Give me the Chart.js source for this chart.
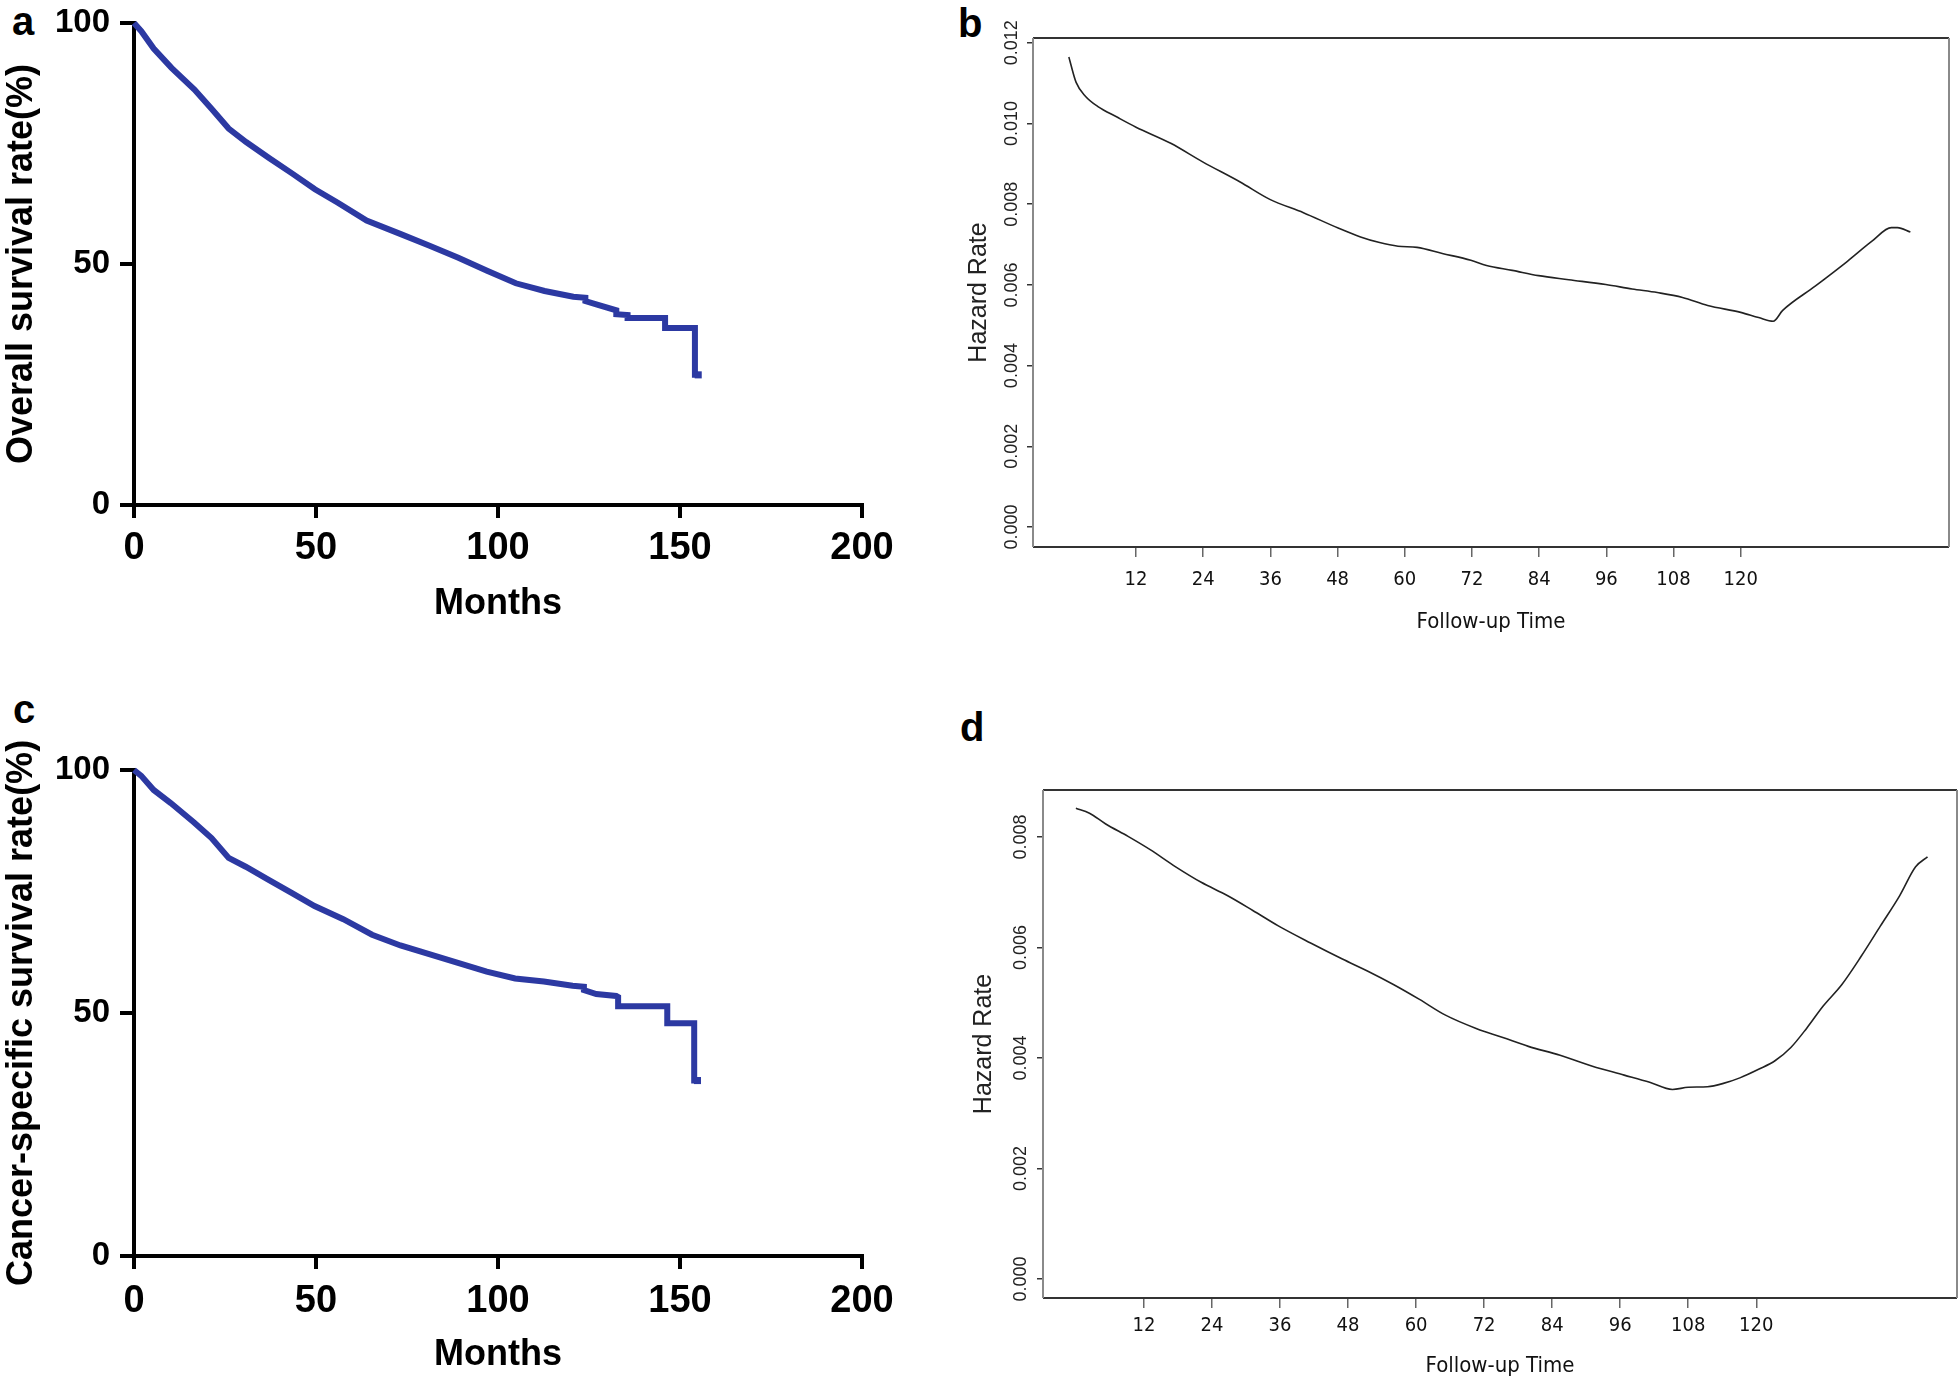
<!DOCTYPE html>
<html>
<head>
<meta charset="utf-8">
<script src="https://cdn.jsdelivr.net/npm/chart.js@4.4.1/dist/chart.umd.min.js"></script>
<style>
body { margin: 0; background: #fff; width: 1960px; height: 1381px; overflow: hidden; position: relative; }
canvas { position: absolute; }
.tag { position: absolute; font: bold 40px 'Liberation Sans', Arial, sans-serif; line-height: 40px; color: #000; }
</style>
</head>
<body>
<div class="tag" style="left:12px;top:1px">a</div>
<div class="tag" style="left:958px;top:3px">b</div>
<div class="tag" style="left:13px;top:689px">c</div>
<div class="tag" style="left:960px;top:707px">d</div>
<canvas id="chartA" width="900" height="640" style="left:0;top:0"></canvas>
<canvas id="chartB" width="1000" height="660" style="left:960px;top:0"></canvas>
<canvas id="chartC" width="900" height="691" style="left:0;top:690px"></canvas>
<canvas id="chartD" width="1000" height="681" style="left:960px;top:700px"></canvas>
<script>
// a: overall survival (Kaplan-Meier)
const osMonths = [0, 2, 5.4, 10.3, 16.6, 21.3, 26, 30.8, 37.1, 43.4, 49.7, 56, 63.9, 73.3, 81.2, 89.1, 97, 104.9, 112.8, 120.7, 124, 124, 127, 132.5, 132.5, 135.6, 135.6, 145.9, 145.9, 154.1, 154.1, 155];
const osRate = [100, 98.3, 94.7, 90.7, 86.2, 82.2, 78.1, 75.3, 72.0, 68.8, 65.5, 62.7, 59.0, 56.2, 53.8, 51.3, 48.6, 46.0, 44.4, 43.2, 43.0, 42.3, 41.6, 40.4, 39.6, 39.4, 38.8, 38.8, 36.7, 36.7, 27.0, 27.0];

// c: cancer-specific survival
const cssMonths = [0, 2, 5.4, 10.1, 16.5, 21.3, 26, 30.7, 37, 43.3, 49.6, 57.5, 65.4, 73.2, 81.1, 89, 96.9, 104.7, 112.6, 120.5, 123.6, 123.6, 127, 132.5, 133, 133, 146.5, 146.5, 153.9, 153.9, 154.8];
const cssRate = [100, 98.8, 95.9, 93.2, 89.2, 86.0, 81.9, 80.1, 77.4, 74.7, 72.0, 69.3, 66.1, 63.9, 62.1, 60.3, 58.5, 57.1, 56.5, 55.6, 55.4, 54.7, 53.9, 53.5, 53.3, 51.4, 51.4, 47.9, 47.9, 36.1, 36.1];

// b: hazard rate (overall)
const hrMonthsB = [0, 1.3, 3.0, 5.2, 8.6, 12, 18.2, 23.9, 30.6, 35.9, 41.9, 48.1, 52.1, 55.5, 58.8, 62.2, 66.7, 71.8, 74.6, 79.2, 83.9, 89.3, 95.9, 100.6, 105.1, 109.6, 114.1, 120, 123.2, 125.8, 127.5, 133.3, 139, 143.5, 146.9, 148, 150.3];
const hrRateB = [0.01165, 0.01102, 0.01067, 0.01042, 0.01016, 0.00991, 0.00951, 0.00905, 0.00855, 0.00812, 0.00779, 0.00741, 0.00719, 0.00705, 0.00696, 0.00693, 0.00678, 0.00661, 0.00648, 0.00636, 0.00623, 0.00613, 0.00601, 0.00590, 0.00581, 0.00569, 0.00549, 0.00532, 0.00519, 0.00510, 0.00537, 0.00597, 0.00658, 0.00709, 0.00742, 0.00742, 0.00731];

// d: hazard rate (cancer-specific)
const hrMonthsD = [0, 2.4, 5.2, 9.2, 13.1, 17.6, 22.1, 26.7, 31.2, 35.7, 41.4, 47, 51.5, 56, 60.6, 65.1, 70.7, 75.3, 79.8, 85.4, 91.1, 96.7, 101.2, 105.2, 108, 111.4, 114.2, 117.1, 120.5, 123.3, 126.1, 128.9, 131.8, 135.1, 138.5, 141.9, 145.3, 148.1, 150.2];
const hrRateD = [0.00852, 0.00843, 0.00824, 0.00801, 0.00777, 0.00746, 0.00718, 0.00694, 0.00667, 0.00639, 0.00608, 0.00579, 0.00557, 0.00533, 0.00506, 0.00478, 0.00453, 0.00437, 0.00421, 0.00405, 0.00385, 0.00369, 0.00356, 0.00343, 0.00347, 0.00348, 0.00354, 0.00364, 0.00380, 0.00395, 0.00419, 0.00454, 0.00494, 0.00533, 0.00584, 0.00639, 0.00694, 0.00746, 0.00764];

// ticks
const kmXTicks = [0, 50, 100, 150, 200];
const kmYTicks = [0, 50, 100];
const hrXTicks = [12, 24, 36, 48, 60, 72, 84, 96, 108, 120];
const hrYTicksB = ['0.000', '0.002', '0.004', '0.006', '0.008', '0.010', '0.012'];
const hrYTicksD = ['0.000', '0.002', '0.004', '0.006', '0.008'];

const BLUE = '#2c39a2';
const SANS = "'Liberation Sans', Arial, sans-serif";
const NARROW = "'Liberation Sans Narrow', 'DejaVu Sans Condensed', sans-serif";

const toPoints = (xs, ys) => xs.map((x, i) => ({ x: x, y: ys[i] }));

// fixed axis size, and no extra padding for the labels
const fixSize = (prop, size) => s => {
    s[prop] = size;
    s.paddingTop = 0; s.paddingBottom = 0; s.paddingLeft = 0; s.paddingRight = 0;
};

// survival panel (a, c)
function kmChart(id, months, rate, yTitle, g) {
    const last = months.length - 1;
    new Chart(document.getElementById(id), {
        type: 'line',
        data: {
            datasets: [{
                data: toPoints(months, rate),
                borderColor: BLUE,
                borderWidth: 6,
                tension: 0,
                pointRadius: ctx => ctx.dataIndex === last ? 5 : 0,
                pointStyle: 'rect',
                pointBackgroundColor: BLUE,
                pointBorderWidth: 0,
                clip: false
            }]
        },
        options: {
            responsive: false,
            animation: false,
            layout: { padding: { left: 0, top: g.top, right: 38, bottom: 0 }, autoPadding: false },
            plugins: { legend: { display: false }, tooltip: { enabled: false } },
            scales: {
                x: {
                    type: 'linear', min: 0, max: 200,
                    afterFit: fixSize('height', g.xHeight),
                    afterBuildTicks: s => { s.ticks = kmXTicks.map(v => ({ value: v })); },
                    border: { display: true, color: '#000', width: 4 },
                    grid: { drawOnChartArea: false, tickLength: 13, tickWidth: 4, tickColor: '#000', color: '#000', lineWidth: 4 },
                    ticks: { color: '#000', font: { family: SANS, size: 38, weight: 'bold' }, padding: g.tickPad, maxRotation: 0 },
                    title: { display: true, text: 'Months', color: '#000', font: { family: SANS, size: 36, weight: 'bold' }, padding: { top: 0, bottom: g.titlePad } }
                },
                y: {
                    type: 'linear', min: 0, max: 100,
                    afterFit: fixSize('width', 134),
                    afterBuildTicks: s => { s.ticks = kmYTicks.map(v => ({ value: v })); },
                    border: { display: true, color: '#000', width: 4 },
                    grid: { drawOnChartArea: false, tickLength: 14, tickWidth: 4, tickColor: '#000', color: '#000', lineWidth: 4 },
                    ticks: { color: '#000', font: { family: SANS, size: 33, weight: 'bold' }, padding: 10 },
                    title: { display: true, text: yTitle, color: '#000', font: { family: SANS, size: 36, weight: 'bold' }, padding: { top: 0, bottom: 0 } }
                }
            }
        }
    });
}

// box + rotated y labels for the hazard panels
function hzDecor(labels, labelX) {
    return {
        id: 'hzDecor',
        afterDraw(chart) {
            const { ctx, chartArea: a, scales: { y } } = chart;
            ctx.save();
            ctx.lineWidth = 2;
            ctx.strokeStyle = '#333';
            ctx.beginPath();
            ctx.moveTo(a.left, a.top); ctx.lineTo(a.right, a.top);
            ctx.moveTo(a.left, a.bottom); ctx.lineTo(a.right, a.bottom);
            ctx.stroke();
            ctx.strokeStyle = '#8a8a8a';
            ctx.beginPath();
            ctx.moveTo(a.left, a.top); ctx.lineTo(a.left, a.bottom);
            ctx.moveTo(a.right, a.top); ctx.lineTo(a.right, a.bottom);
            ctx.stroke();
            ctx.fillStyle = '#222';
            ctx.font = '18px ' + SANS;
            ctx.textAlign = 'center';
            ctx.textBaseline = 'middle';
            labels.forEach(t => {
                ctx.save();
                ctx.translate(labelX, y.getPixelForValue(parseFloat(t)));
                ctx.rotate(-Math.PI / 2);
                ctx.fillText(t, 0, 0);
                ctx.restore();
            });
            ctx.restore();
        }
    };
}

function hzChart(id, months, rate, yLabels, g) {
    new Chart(document.getElementById(id), {
        type: 'line',
        data: {
            datasets: [{
                data: toPoints(months, rate),
                borderColor: '#222',
                borderWidth: 1.6,
                cubicInterpolationMode: 'monotone',
                pointRadius: 0
            }]
        },
        options: {
            responsive: false,
            animation: false,
            layout: { padding: { left: 0, top: g.top, right: g.right, bottom: 0 }, autoPadding: false },
            plugins: { legend: { display: false }, tooltip: { enabled: false } },
            scales: {
                x: {
                    type: 'linear', min: g.xmin, max: g.xmax,
                    afterFit: fixSize('height', g.xHeight),
                    afterBuildTicks: s => { s.ticks = hrXTicks.map(v => ({ value: v })); },
                    border: { display: false },
                    grid: { drawOnChartArea: false, tickLength: 10, tickWidth: 1.5, tickColor: '#666', color: '#666', lineWidth: 1.5 },
                    ticks: { color: '#111', font: { family: NARROW, size: 20 }, padding: g.xTickPad, maxRotation: 0 },
                    title: { display: true, text: 'Follow-up Time', color: '#111', font: { family: NARROW, size: 22 }, padding: { top: 0, bottom: g.xTitlePad } }
                },
                y: {
                    type: 'linear', min: g.ymin, max: g.ymax,
                    afterFit: fixSize('width', g.yWidth),
                    afterBuildTicks: s => { s.ticks = yLabels.map(t => ({ value: parseFloat(t) })); },
                    border: { display: false },
                    grid: { drawOnChartArea: false, tickLength: 6, tickWidth: 1.5, tickColor: '#333', color: '#333', lineWidth: 1.5 },
                    ticks: { display: false },
                    title: { display: true, text: 'Hazard Rate', color: '#222', font: { family: SANS, size: 25 }, padding: { top: g.yTitlePad, bottom: 0 } }
                }
            }
        },
        plugins: [hzDecor(yLabels, g.yLabelX)]
    });
}

kmChart('chartA', osMonths, osRate, 'Overall survival rate(%)', { top: 23, xHeight: 135, tickPad: 8, titlePad: 14 });
kmChart('chartC', cssMonths, cssRate, 'Cancer-specific survival rate(%)', { top: 80, xHeight: 125, tickPad: 10, titlePad: 4 });

hzChart('chartB', hrMonthsB, hrRateB, hrYTicksB, {
    top: 38, right: 11, yWidth: 73, xHeight: 113,
    xmin: -6.4, xmax: 157.2, ymin: -0.000496, ymax: 0.01212,
    yLabelX: 52, yTitlePad: 4, xTickPad: 11, xTitlePad: 25
});
hzChart('chartD', hrMonthsD, hrRateD, hrYTicksD, {
    top: 90, right: 3, yWidth: 83, xHeight: 83,
    xmin: -5.8, xmax: 155.4, ymin: -0.000344, ymax: 0.00885,
    yLabelX: 61, yTitlePad: 9, xTickPad: 6, xTitlePad: 2
});
</script>
</body>
</html>
